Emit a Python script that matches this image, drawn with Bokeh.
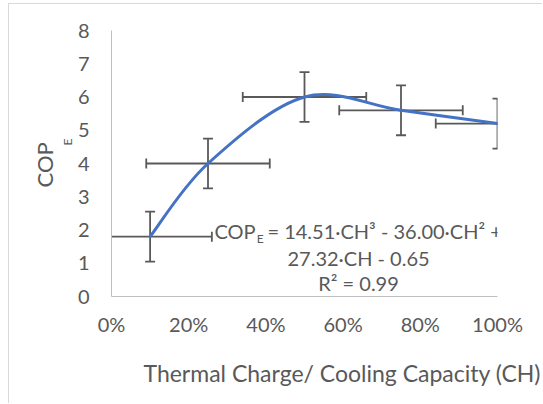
import numpy as np
from bokeh.plotting import figure
from bokeh.models import FixedTicker, NumeralTickFormatter, Label, Title
from bokeh.embed import file_html
from bokeh.resources import INLINE

# ---- data ----
ch = [0.10, 0.25, 0.50, 0.75, 1.00]          # thermal charge / cooling capacity
cop = [1.80, 4.00, 6.00, 5.60, 5.20]         # COP_E
cop_err = [0.75, 0.75, 0.75, 0.75, 0.75]     # vertical error
ch_err = [0.16, 0.16, 0.16, 0.16, 0.16]      # horizontal error
x_ticks = [0.0, 0.2, 0.4, 0.6, 0.8, 1.0]
y_ticks = [0, 1, 2, 3, 4, 5, 6, 7, 8]

x_title = "Thermal Charge/ Cooling Capacity  (CH)"
y_title = "COP"
y_title_sub = "E"
eq_head = "COP"
eq_sub = "E"
eq_line1 = "= 14.51·CH³ - 36.00·CH² +"
eq_line2 = "27.32·CH - 0.65"
eq_line3 = "R² = 0.99"

FONT = "Lato"
TXT = "#595959"
AXC = "#bfbfbf"
ERR = "#595959"
BLUE = "#4472C4"

p = figure(width=534, height=400, x_range=(0, 1), y_range=(0, 8),
           output_backend="svg", toolbar_location=None,
           min_border_left=102, min_border_right=46,
           min_border_top=26, min_border_bottom=108)
p.styles = {"margin-left": "8px", "margin-top": "3px",
            "border-left": "1px solid #d9d9d9", "border-top": "1px solid #d9d9d9"}
p.outline_line_color = None
p.grid.visible = False
p.background_fill_color = "white"
p.border_fill_color = "white"

for ax in (p.xaxis[0], p.yaxis[0]):
    ax.axis_line_color = AXC
    ax.axis_line_width = 1
    ax.major_tick_line_color = None
    ax.minor_tick_line_color = None
    ax.major_tick_out = 0
    ax.major_tick_in = 0
    ax.minor_tick_out = 0
    ax.major_label_text_font = FONT
    ax.major_label_text_font_size = "20px"
    ax.major_label_text_color = TXT
p.xaxis.ticker = FixedTicker(ticks=x_ticks)
p.xaxis.formatter = NumeralTickFormatter(format="0%")
p.xaxis.major_label_standoff = 15
p.yaxis.ticker = FixedTicker(ticks=y_ticks)
p.yaxis.major_label_standoff = 22

# ---- smoothed line (Catmull-Rom -> cubic Bezier, like a spreadsheet "smoothed line") ----
pts = list(zip(ch, cop))
n = len(pts)
bx0, by0, bx1, by1, cx0, cy0, cx1, cy1 = ([] for _ in range(8))
for i in range(n - 1):
    q0 = pts[i - 1] if i > 0 else pts[i]
    q1 = pts[i]
    q2 = pts[i + 1]
    q3 = pts[i + 2] if i + 2 < n else pts[i + 1]
    bx0.append(q1[0]); by0.append(q1[1])
    bx1.append(q2[0]); by1.append(q2[1])
    cx0.append(q1[0] + (q2[0] - q0[0]) / 6); cy0.append(q1[1] + (q2[1] - q0[1]) / 6)
    cx1.append(q2[0] - (q3[0] - q1[0]) / 6); cy1.append(q2[1] - (q3[1] - q1[1]) / 6)

# ---- error bars ----
x = np.array(ch); y = np.array(cop)
ey = np.array(cop_err); ex = np.array(ch_err)
p.segment(x0=x, y0=y - ey, x1=x, y1=y + ey, line_color=ERR, line_width=1.8)
p.segment(x0=x - ex, y0=y, x1=x + ex, y1=y, line_color=ERR, line_width=1.8)
p.scatter(x=np.concatenate([x, x]), y=np.concatenate([y - ey, y + ey]),
          marker="dash", size=10, line_color=ERR, line_width=1.8)
p.scatter(x=np.concatenate([x - ex, x + ex]), y=np.concatenate([y, y]),
          marker="dash", size=10, angle=np.pi / 2, line_color=ERR, line_width=1.8)

p.bezier(x0=bx0, y0=by0, x1=bx1, y1=by1, cx0=cx0, cy0=cy0, cx1=cx1, cy1=cy1,
         line_color=BLUE, line_width=3, line_cap="round")

# ---- equation texts ----
def lab(text, xx, yy, size, align="center", baseline="middle"):
    p.add_layout(Label(x=xx, y=yy, text=text, text_font=FONT, text_font_size=size,
                       text_color=TXT, text_align=align, text_baseline=baseline))

lab(eq_head, 0.373, 1.97, "20px", align="right")
lab(eq_sub, 0.376, 1.74, "12px", align="left")
lab(eq_line1, 0.404, 1.97, "20px", align="left")
lab(eq_line2, 0.64, 1.17, "20px")
lab(eq_line3, 0.64, 0.42, "20px")

# ---- axis titles ----
def ttl(text, side, offset, size, standoff):
    p.add_layout(Title(text=text, align="left", offset=offset, text_font=FONT,
                       text_font_size=size, text_color=TXT, text_font_style="normal",
                       standoff=standoff), side)

ttl(x_title, "below", 32, "23px", 36)
ttl(y_title_sub, "left", 151, "12px", 0)
ttl(y_title, "left", 109, "22px", 0)

open("out.html", "w").write(file_html(p, INLINE))
